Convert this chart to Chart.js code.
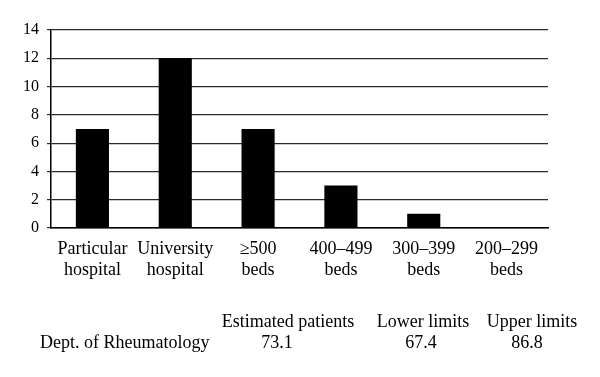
<!DOCTYPE html>
<html>
<head>
<meta charset="utf-8">
<script src="https://cdn.jsdelivr.net/npm/chart.js@4/dist/chart.umd.min.js"></script>
<style>
    html, body { margin: 0; padding: 0; background: #fff; }
    #wrap { position: relative; width: 600px; height: 377px; overflow: hidden; }
    #chart { position: absolute; left: 0; top: 0; }
    .cell {
        position: absolute;
        font-family: "Liberation Serif", "DejaVu Serif", serif;
        font-size: 18px;
        line-height: 18px;
        color: #000;
        white-space: nowrap;
    }
</style>
</head>
<body>
<div id="wrap">
    <canvas id="chart" width="600" height="377"></canvas>
</div>
<script>
// chart data
const categories = [
    ['Particular', 'hospital'],
    ['University', 'hospital'],
    ['\u2265500', 'beds'],
    ['400\u2013499', 'beds'],
    ['300\u2013399', 'beds'],
    ['200\u2013299', 'beds']
];
const counts = [7, 12, 7, 3, 1, 0];
const yTicks = [0, 2, 4, 6, 8, 10, 12, 14];

// table under the chart
const rowLabel = 'Dept. of Rheumatology';
const tableHeaders = ['Estimated patients', 'Lower limits', 'Upper limits'];
const tableValues = ['73.1', '67.4', '86.8'];

// layout of the table (px)
const headerCenters = [288, 423, 532];
const valueCenters = [277, 421, 527];

const wrap = document.getElementById('wrap');

function addCell(text, x, y, center) {
    const d = document.createElement('div');
    d.className = 'cell';
    d.textContent = text;
    d.style.top = y + 'px';
    d.style.left = x + 'px';
    if (center) d.style.transform = 'translateX(-50%)';
    wrap.appendChild(d);
}

tableHeaders.forEach(function (h, i) { addCell(h, headerCenters[i], 312, true); });
addCell(rowLabel, 40, 333, false);
tableValues.forEach(function (v, i) { addCell(v, valueCenters[i], 333, true); });

const serif = '"Liberation Serif", "DejaVu Serif", serif';

function drawChart() {
    const ctx = document.getElementById('chart').getContext('2d');
    new Chart(ctx, {
        type: 'bar',
        data: {
            labels: categories,
            datasets: [{
                data: counts,
                backgroundColor: '#000',
                borderWidth: 0,
                categoryPercentage: 1.0,
                barPercentage: 0.4
            }]
        },
        options: {
            responsive: false,
            animation: false,
            layout: { padding: { top: 30, right: 52, left: 0, bottom: 89 } },
            plugins: { legend: { display: false }, tooltip: { enabled: false } },
            scales: {
                x: {
                    grid: { display: false, drawTicks: false },
                    border: { display: true, color: '#000', width: 1.5 },
                    ticks: {
                        color: '#000',
                        font: { family: serif, size: 18, lineHeight: 1.2 },
                        padding: 10,
                        maxRotation: 0,
                        autoSkip: false
                    },
                    afterFit: function (scale) { scale.height = 60; }
                },
                y: {
                    min: 0,
                    max: 14,
                    afterBuildTicks: function (scale) {
                        scale.ticks = yTicks.map(function (v) { return { value: v }; });
                    },
                    grid: { color: '#2a2a2a', lineWidth: 1.2, tickLength: 4 },
                    border: { display: true, color: '#000', width: 1.5 },
                    ticks: {
                        color: '#000',
                        font: { family: serif, size: 16 },
                        padding: 8
                    },
                    afterFit: function (scale) { scale.width = 51; }
                }
            }
        }
    });
}

// make sure the serif face is ready before the canvas text is drawn
Promise.all([
    document.fonts.load('16px "Liberation Serif"'),
    document.fonts.load('18px "Liberation Serif"')
]).then(drawChart, drawChart);
</script>
</body>
</html>
